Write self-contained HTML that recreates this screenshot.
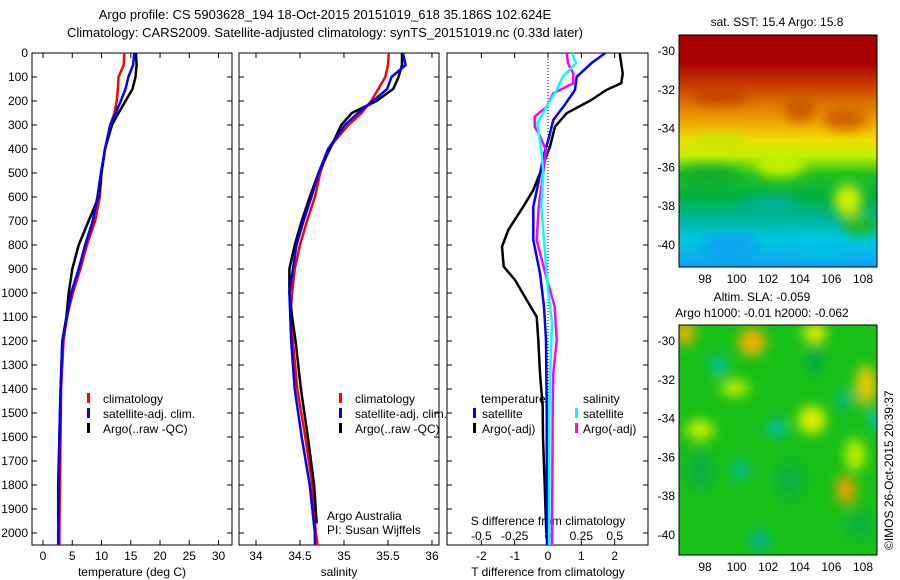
<!DOCTYPE html>
<html><head><meta charset="utf-8"><style>
body{margin:0;background:#fff;}
svg{display:block;font-family:"Liberation Sans",sans-serif;}
</style></head><body>
<svg id="fig" width="900" height="580" viewBox="0 0 900 580">
<defs>
<linearGradient id="sstg" x1="0" y1="0" x2="0" y2="1">
<stop offset="0" stop-color="#a80000"/><stop offset="0.12" stop-color="#a80000"/>
<stop offset="0.22" stop-color="#c84000"/><stop offset="0.3" stop-color="#e07800"/>
<stop offset="0.38" stop-color="#f0a800"/><stop offset="0.45" stop-color="#f0dc00"/>
<stop offset="0.52" stop-color="#c0f000"/><stop offset="0.6" stop-color="#20c020"/>
<stop offset="0.7" stop-color="#00b040"/><stop offset="0.8" stop-color="#00b8a0"/>
<stop offset="0.88" stop-color="#00c8e0"/><stop offset="1" stop-color="#10a0f0"/>
</linearGradient>
<filter id="bl" x="-50%" y="-50%" width="200%" height="200%"><feGaussianBlur stdDeviation="6"/></filter>
<clipPath id="c1"><rect x="679" y="35" width="198" height="232"/></clipPath>
<clipPath id="c2"><rect x="679" y="325" width="198" height="230"/></clipPath>
</defs>
<text x="325" y="19" font-size="13" text-anchor="middle">Argo profile: CS 5903628_194 18-Oct-2015 20151019_618 35.186S 102.624E</text>
<text x="325" y="37" font-size="13" text-anchor="middle">Climatology: CARS2009. Satellite-adjusted climatology: synTS_20151019.nc (0.33d later)</text>
<g id="axes"></g>
<g id="lines"></g>
<!-- SST map -->
<g clip-path="url(#c1)">
<rect x="679" y="35" width="198" height="232" fill="url(#sstg)"/>
<g filter="url(#bl)">
<ellipse cx="845" cy="118" rx="22" ry="12" fill="#d06000"/>
<ellipse cx="800" cy="108" rx="14" ry="14" fill="#c85800"/>
<ellipse cx="720" cy="95" rx="30" ry="8" fill="#c04000"/>
<ellipse cx="848" cy="200" rx="14" ry="16" fill="#d0f000"/>
<ellipse cx="720" cy="140" rx="30" ry="6" fill="#c0e800"/>
<ellipse cx="710" cy="175" rx="30" ry="8" fill="#10a830"/>
<ellipse cx="780" cy="165" rx="25" ry="12" fill="#c8f000"/>
<ellipse cx="860" cy="225" rx="18" ry="10" fill="#20b820"/>
<ellipse cx="770" cy="205" rx="30" ry="8" fill="#00b0a0"/>
<ellipse cx="730" cy="245" rx="30" ry="10" fill="#10a0f0"/>
<ellipse cx="820" cy="250" rx="25" ry="8" fill="#00c0e0"/>
</g>
</g>
<rect x="679" y="35" width="198" height="232" fill="none" stroke="#000"/>
<text x="777" y="26" font-size="12" text-anchor="middle">sat. SST: 15.4  Argo: 15.8</text>
<!-- SLA map -->
<g clip-path="url(#c2)">
<rect x="679" y="325" width="198" height="230" fill="#18c018"/>
<g filter="url(#bl)">
<ellipse cx="700" cy="470" rx="14" ry="20" fill="#10b040"/>
<ellipse cx="790" cy="480" rx="14" ry="20" fill="#10b040"/>
<ellipse cx="860" cy="525" rx="14" ry="14" fill="#10b040"/>
<ellipse cx="685" cy="333" rx="10" ry="12" fill="#f0b000"/>
<ellipse cx="752" cy="342" rx="14" ry="14" fill="#f0b000"/>
<ellipse cx="815" cy="333" rx="12" ry="10" fill="#e8e800"/>
<ellipse cx="866" cy="385" rx="10" ry="20" fill="#f0c800"/>
<ellipse cx="812" cy="420" rx="14" ry="14" fill="#e0f000"/>
<ellipse cx="846" cy="490" rx="10" ry="14" fill="#f0a000"/>
<ellipse cx="700" cy="430" rx="14" ry="10" fill="#c8f000"/>
<ellipse cx="735" cy="388" rx="14" ry="8" fill="#c8f000"/>
<ellipse cx="855" cy="455" rx="10" ry="16" fill="#c8f000"/>
<ellipse cx="718" cy="365" rx="8" ry="10" fill="#00c0b0"/>
<ellipse cx="777" cy="428" rx="8" ry="10" fill="#00c0b0"/>
<ellipse cx="740" cy="470" rx="8" ry="10" fill="#00b8a0"/>
<ellipse cx="845" cy="400" rx="7" ry="10" fill="#00b890"/>
<ellipse cx="876" cy="420" rx="6" ry="10" fill="#00c0d0"/>
<ellipse cx="760" cy="540" rx="10" ry="10" fill="#00b090"/>
<ellipse cx="815" cy="360" rx="8" ry="14" fill="#00a850"/>
</g>
</g>
<rect x="679" y="325" width="198" height="230" fill="none" stroke="#000"/>
<text x="762" y="301" font-size="12" text-anchor="middle">Altim. SLA: -0.059</text>
<text x="762" y="317" font-size="12" text-anchor="middle">Argo h1000: -0.01 h2000: -0.062</text>
<text transform="translate(893,550) rotate(-90)" font-size="12">©IMOS 26-Oct-2015 20:39:37</text>
<!-- legends -->
<g font-size="12">
<rect x="87" y="393" width="3" height="10" fill="#f00"/><text x="103" y="403">climatology</text>
<rect x="87" y="408" width="3" height="10" fill="#00f"/><text x="103" y="418">satellite-adj. clim.</text>
<rect x="87" y="423" width="3" height="10" fill="#000"/><text x="103" y="433">Argo(..raw -QC)</text>
</g>
<g font-size="12">
<rect x="339" y="393" width="3" height="10" fill="#f00"/><text x="355" y="403">climatology</text>
<rect x="339" y="408" width="3" height="10" fill="#00f"/><text x="355" y="418">satellite-adj. clim.</text>
<rect x="339" y="423" width="3" height="10" fill="#000"/><text x="355" y="433">Argo(..raw -QC)</text>
</g>
<text x="327" y="520" font-size="12">Argo Australia</text>
<text x="327" y="534" font-size="12">PI: Susan Wijffels</text>
<g font-size="12">
<text x="481" y="403">temperature</text><text x="583" y="403">salinity</text>
<rect x="473" y="408" width="3" height="10" fill="#00f"/><text x="482" y="418">satellite</text>
<rect x="473" y="423" width="3" height="10" fill="#000"/><text x="482" y="433">Argo(-adj)</text>
<rect x="575" y="408" width="3" height="10" fill="#0ff"/><text x="583" y="418">satellite</text>
<rect x="575" y="423" width="3" height="10" fill="#f0f"/><text x="583" y="433">Argo(-adj)</text>
</g>
</svg>
<script>
// depth levels (m)
const depthClim = [0,50,100,150,200,250,300,400,500,600,700,800,900,1000,1100,1200,1400,1600,1800,2000,2050];
const tempClim  = [13.9,13.8,12.9,12.8,12.6,12.2,11.5,10.6,10.0,9.7,8.9,7.5,6.4,5.1,4.1,3.5,3.1,3.0,2.9,2.8,2.8];
const tempSat   = [15.6,15.4,14.6,14.1,13.3,12.4,11.5,10.6,9.9,9.3,8.5,7.2,6.1,4.8,4.1,3.3,3.0,2.8,2.7,2.6,2.6];
const depthArgo = [0,50,100,150,200,250,300,400,500,600,700,800,900,1000,1100,1200,1400,1600,1800,1960];
const tempArgo  = [15.9,16.0,15.8,15.3,14.1,12.9,11.8,10.6,10.0,9.5,7.8,6.1,5.0,4.4,4.0,3.3,3.0,2.8,2.6,2.6];
const salClim   = [35.51,35.50,35.47,35.39,35.31,35.20,35.05,34.82,34.73,34.67,34.58,34.50,34.44,34.41,34.39,34.42,34.47,34.56,34.64,34.68,34.70];
const salSat    = [35.67,35.70,35.54,35.49,35.33,35.16,35.01,34.82,34.71,34.63,34.54,34.46,34.42,34.38,34.39,34.40,34.44,34.52,34.61,34.67,34.67];
const salArgo   = [35.66,35.66,35.62,35.56,35.37,35.09,34.97,34.84,34.71,34.61,34.52,34.44,34.38,34.38,34.41,34.45,34.51,34.59,34.66,34.69];
const depthDT   = [0,85,126,154,196,251,307,390,501,571,640,737,807,890,946,1029,1099,1196,1335,1474,1600,1800,2000];
const dTArgo    = [2.15,2.24,2.2,1.75,1.30,0.56,0.21,0.06,-0.24,-0.44,-0.74,-1.19,-1.38,-1.33,-0.99,-0.64,-0.34,-0.29,-0.24,-0.16,-0.15,-0.1,-0.05];
const depthDTs  = [0,43,99,154,224,279,362,432,543,640,779,918,1057,1196,1474,2050];
const dTSat     = [1.72,1.3,0.86,0.81,0.46,0.16,0.01,-0.14,-0.29,-0.44,-0.44,-0.24,-0.12,-0.06,-0.04,-0.03];
const depthDS   = [0,43,99,154,224,293,335,404,501,640,849,988,1126,1265,1474,2050];
const dSSat     = [0.18,0.21,0.11,0.065,-0.01,-0.08,-0.07,-0.05,-0.035,-0.05,-0.02,0,0.03,0.02,0.01,0.01];
const depthDSa  = [0,43,85,126,168,224,265,307,335,404,501,640,779,918,1057,1196,1335,1474,2050];
const dSArgo    = [0.14,0.15,0.19,0.19,0.04,-0.01,-0.1,-0.1,-0.07,-0.015,-0.035,-0.07,-0.085,-0.02,0.05,0.065,0.04,0.035,0.03];
const depthTicks = [0,100,200,300,400,500,600,700,800,900,1000,1100,1200,1300,1400,1500,1600,1700,1800,1900,2000];
const tempTicks = [0,5,10,15,20,25,30];
const salTicks = [34,34.5,35,35.5,36];
const dTTicks = [-2,-1,0,1,2];
const dSTicks = [-0.5,-0.25,0,0.25,0.5];
const lonTicks = [98,100,102,104,106,108];
const latTicks = [-30,-32,-34,-36,-38,-40];

const NS='http://www.w3.org/2000/svg';
const ax=document.getElementById('axes'), ln=document.getElementById('lines');
const Y0=53, Y1=545;
const yD=d=>Y0+d*0.24;
const P1={x0:32,x1:232,min:-1.88,max:32.3}, P2={x0:239,x1:439,min:33.807,max:36.08}, P3={x0:447,x1:648,min:-3.03,max:3.0};
const sx=(p,v)=>p.x0+(v-p.min)/(p.max-p.min)*(p.x1-p.x0);
const sxS=v=>sx(P3,v*4);
const lonX=v=>705+(v-98)*15.8;
const lat1=v=>51+(-30-v)*19.4;
const lat2=v=>341+(-30-v)*19.4;
function mk(tag,attrs,parent,txt){const e=document.createElementNS(NS,tag);for(const k in attrs)e.setAttribute(k,attrs[k]);if(txt!==undefined)e.textContent=txt;parent.appendChild(e);return e;}
function panel(p,name){
  const r=mk('rect',{x:p.x0,y:Y0,width:p.x1-p.x0,height:Y1-Y0,fill:'none',stroke:'#000'},ax);
  
  
  depthTicks.forEach(d=>{const y=yD(d);mk('line',{x1:p.x0,x2:p.x0+5,y1:y,y2:y,stroke:'#000'},ax);mk('line',{x1:p.x1-5,x2:p.x1,y1:y,y2:y,stroke:'#000'},ax);});
}
panel(P1,'temperature-panel');panel(P2,'salinity-panel');panel(P3,'difference-panel');
depthTicks.forEach(d=>{const t=mk('text',{x:28,y:yD(d)+4,'font-size':12,'text-anchor':'end'},ax,String(d));
  
  });
function xticks(p,ticks,fn,labY,lab){ticks.forEach(v=>{const x=fn(v);mk('line',{x1:x,x2:x,y1:Y0,y2:Y0+5,stroke:'#000'},ax);mk('line',{x1:x,x2:x,y1:Y1-5,y2:Y1,stroke:'#000'},ax);
  const t=mk('text',{x:x,y:labY,'font-size':12,'text-anchor':'middle'},ax,String(v));
  
  });}
xticks(P1,tempTicks,v=>sx(P1,v),560,'temperature-tick-label');
xticks(P2,salTicks,v=>sx(P2,v),560,'salinity-tick-label');
xticks(P3,dTTicks,v=>sx(P3,v),560,'t-diff-tick-label');
dSTicks.forEach(v=>{const t=mk('text',{x:sxS(v),y:540,'font-size':12,'text-anchor':'middle'},ax,String(v));
  
  });
[['temperature (deg C)',132,576,'temperature-axis-title'],['salinity',339,576,'salinity-axis-title'],['T difference from climatology',548,576,'t-diff-axis-title'],['S difference from climatology',548,525,'s-diff-axis-title']].forEach(a=>{
  const t=mk('text',{x:a[1],y:a[2],'font-size':12,'text-anchor':'middle'},ax,a[0]);
  
  });
mk('line',{x1:sx(P3,0),x2:sx(P3,0),y1:Y0,y2:400,stroke:'#000','stroke-dasharray':'1,2'},ax);
function mapTicks(latF,yb,top){lonTicks.forEach(v=>{const x=lonX(v);mk('line',{x1:x,x2:x,y1:top,y2:top+4,stroke:'#000'},ax);mk('line',{x1:x,x2:x,y1:yb-4,y2:yb,stroke:'#000'},ax);
  const t=mk('text',{x:x,y:yb+16,'font-size':12,'text-anchor':'middle'},ax,String(v));
  
  });
 latTicks.forEach(v=>{const y=latF(v);mk('line',{x1:679,x2:683,y1:y,y2:y,stroke:'#000'},ax);mk('line',{x1:873,x2:877,y1:y,y2:y,stroke:'#000'},ax);
  const t=mk('text',{x:675,y:y+4,'font-size':12,'text-anchor':'end'},ax,String(v));
  
  });}
mapTicks(lat1,267,35);mapTicks(lat2,555,325);
function line(ds,vs,fx,col,name){
  const pts=ds.map((d,i)=>fx(vs[i]).toFixed(1)+','+yD(d).toFixed(1)).join(' ');
  const e=mk('polyline',{points:pts,fill:'none',stroke:col,'stroke-width':2.5,'stroke-linejoin':'round'},ln);
  
  }
line(depthClim,tempClim,v=>sx(P1,v),'#f00','temp-climatology-line');
line(depthArgo,tempArgo,v=>sx(P1,v),'#000','temp-argo-line');
line(depthClim,tempSat,v=>sx(P1,v),'#00f','temp-satellite-line');
line(depthClim,salClim,v=>sx(P2,v),'#f00','sal-climatology-line');
line(depthArgo,salArgo,v=>sx(P2,v),'#000','sal-argo-line');
line(depthClim,salSat,v=>sx(P2,v),'#00f','sal-satellite-line');
line(depthDT,dTArgo,v=>sx(P3,v),'#000','t-diff-argo-line');
line(depthDTs,dTSat,v=>sx(P3,v),'#00f','t-diff-satellite-line');
line(depthDSa,dSArgo,sxS,'#f0f','s-diff-argo-line');
line(depthDS,dSSat,sxS,'#0ff','s-diff-satellite-line');
</script>
</body></html>
